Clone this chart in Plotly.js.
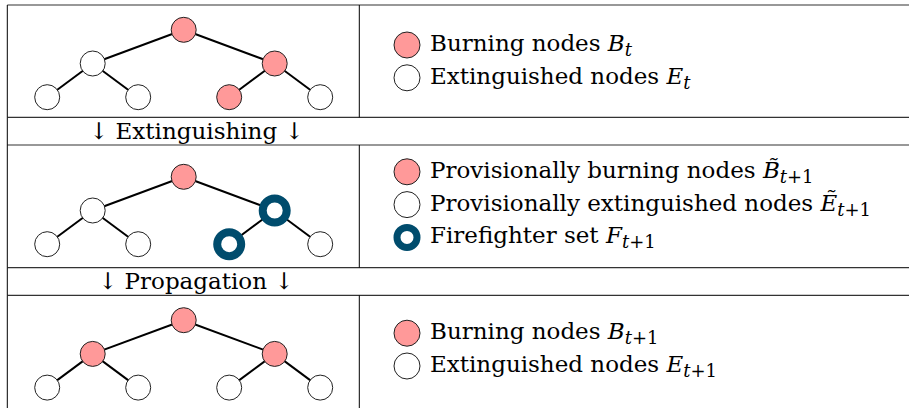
<!DOCTYPE html>
<html>
<head>
<meta charset="utf-8">
<script src="https://cdn.plot.ly/plotly-3.0.1.min.js"></script>
<style>
  html, body { margin: 0; padding: 0; background: #ffffff; }
  #chart { width: 909px; height: 408px; }
</style>
</head>
<body>
<div id="chart"></div>
<script>
// ---------------- DATA ----------------
// binary tree of 7 nodes: parent index of each node (-1 = root)
const parentIndex = [-1, 0, 0, 1, 1, 2, 2];
const nodeLevel   = [0, 1, 1, 2, 2, 2, 2];
// node states at each step
const statesStep1 = ['burning', 'extinguished', 'burning', 'extinguished', 'extinguished', 'burning', 'extinguished'];
const statesStep2 = ['burning', 'extinguished', 'firefighter', 'extinguished', 'extinguished', 'firefighter', 'extinguished'];
const statesStep3 = ['burning', 'burning', 'burning', 'extinguished', 'extinguished', 'extinguished', 'extinguished'];
// legend entries per step
const legendStates1 = ['burning', 'extinguished'];
const legendNames1  = ['Burning nodes', 'Extinguished nodes'];
const legendSymbols1 = [['B', '', 't'], ['E', '', 't']];
const legendStates2 = ['burning', 'extinguished', 'firefighter'];
const legendNames2  = ['Provisionally burning nodes', 'Provisionally extinguished nodes', 'Firefighter set'];
const legendSymbols2 = [['B', '\u0303', 't+1'], ['E', '\u0303', 't+1'], ['F', '', 't+1']];
const legendStates3 = ['burning', 'extinguished'];
const legendNames3  = ['Burning nodes', 'Extinguished nodes'];
const legendSymbols3 = [['B', '', 't+1'], ['E', '', 't+1']];
const transitionLabels = ['\u2193 Extinguishing \u2193', '\u2193 Propagation \u2193'];

// ---------------- LAYOUT / STYLE ----------------
const W = 909, H = 408;
const FONT = 'DejaVu Serif';
const FS = 23;
const SUBFS = 18;
const styles = {
  burning:      { color: '#ff9999', line: '#222222', lw: 1, size: 25 },
  extinguished: { color: '#ffffff', line: '#222222', lw: 1, size: 25 },
  firefighter:  { color: '#ffffff', line: '#004c6d', lw: 8, size: 24 }
};
const legendStyles = {
  burning:      { color: '#ff9999', line: '#222222', lw: 1, size: 26 },
  extinguished: { color: '#ffffff', line: '#222222', lw: 1, size: 26 },
  firefighter:  { color: '#ffffff', line: '#004c6d', lw: 7, size: 20 }
};
const rows = [
  { top: 5,   bottom: 117.3, rootY: 29.8, legY: 45,    states: statesStep1, lst: legendStates1, names: legendNames1, syms: legendSymbols1 },
  { top: 145, bottom: 267.7, rootY: 176.8, legY: 171.8, states: statesStep2, lst: legendStates2, names: legendNames2, syms: legendSymbols2 },
  { top: 295.3, bottom: H + 5, rootY: 320.2, legY: 333.2, states: statesStep3, lst: legendStates3, names: legendNames3, syms: legendSymbols3 }
];
const sepY = [131, 281];
const leftX = 7.3, midX = 359.3;
const leafX0 = 47.2, leafDX = 91, levelDY = 33.7;
const legX = 407, legTextX = 428, legDY = 32.8;

function mathLabel(name, sym) {
  const sub = sym[2].replace(/t/g, '<i>t</i>');
  return name + ' <i>' + sym[0] + sym[1] + '</i><sub><span style="font-size:' + SUBFS + 'px">' + sub + '</span></sub>';
}

// node positions from tree structure
function nodeX() {
  const xs = new Array(parentIndex.length).fill(0);
  const leaves = [];
  nodeLevel.forEach((l, i) => { if (l === 2) leaves.push(i); });
  leaves.forEach((n, k) => { xs[n] = leafX0 + leafDX * k; });
  for (let lev = 1; lev >= 0; lev--) {
    nodeLevel.forEach((l, i) => {
      if (l !== lev) return;
      const ch = parentIndex.map((p, j) => p === i ? j : -1).filter(j => j >= 0);
      xs[i] = ch.reduce((a, j) => a + xs[j], 0) / ch.length;
    });
  }
  return xs;
}
const NX = nodeX();

const traces = [];
const annotations = [];
const shapes = [];

rows.forEach(r => {
  const ny = nodeLevel.map(l => r.rootY + l * levelDY);
  // edges
  const ex = [], ey = [];
  parentIndex.forEach((p, i) => {
    if (p < 0) return;
    ex.push(NX[p], NX[i], null);
    ey.push(ny[p], ny[i], null);
  });
  traces.push({ x: ex, y: ey, mode: 'lines', line: { color: '#000', width: 2 }, hoverinfo: 'skip' });
  // nodes
  traces.push({
    x: NX, y: ny, mode: 'markers', hoverinfo: 'skip',
    marker: {
      opacity: 1,
      size: r.states.map(s => styles[s].size),
      color: r.states.map(s => styles[s].color),
      line: { color: r.states.map(s => styles[s].line), width: r.states.map(s => styles[s].lw) }
    }
  });
  // legend markers
  const ly = r.lst.map((s, k) => r.legY + k * legDY);
  traces.push({
    x: r.lst.map(() => legX), y: ly, mode: 'markers', hoverinfo: 'skip',
    marker: {
      opacity: 1,
      size: r.lst.map(s => legendStyles[s].size),
      color: r.lst.map(s => legendStyles[s].color),
      line: { color: r.lst.map(s => legendStyles[s].line), width: r.lst.map(s => legendStyles[s].lw) }
    }
  });
  r.names.forEach((t, k) => {
    annotations.push({ x: legTextX, y: ly[k], xref: 'x', yref: 'y', text: mathLabel(t, r.syms[k]), showarrow: false,
      xanchor: 'left', yanchor: 'middle', font: { family: FONT, size: FS, color: '#000' } });
  });
  // table borders
  shapes.push({ type: 'line', x0: leftX, x1: W, y0: r.top, y1: r.top, line: { color: '#333', width: 1.2 } });
  if (r.bottom < H) shapes.push({ type: 'line', x0: leftX, x1: W, y0: r.bottom, y1: r.bottom, line: { color: '#333', width: 1.2 } });
  shapes.push({ type: 'line', x0: leftX, x1: leftX, y0: r.top, y1: Math.min(r.bottom, H + 5), line: { color: '#000', width: 1 } });
  shapes.push({ type: 'line', x0: midX, x1: midX, y0: r.top, y1: Math.min(r.bottom, H + 5), line: { color: '#000', width: 1 } });
});

transitionLabels.forEach((t, k) => {
  annotations.push({ x: 196, y: sepY[k], xref: 'x', yref: 'y', text: t, showarrow: false,
    xanchor: 'center', yanchor: 'middle', font: { family: FONT, size: FS, color: '#000' } });
  shapes.push({ type: 'line', x0: leftX, x1: leftX, y0: rows[k].bottom, y1: rows[k + 1].top, line: { color: '#000', width: 1 } });
});

const layout = {
  width: W, height: H,
  margin: { l: 0, r: 0, t: 0, b: 0 },
  paper_bgcolor: '#fff', plot_bgcolor: '#fff',
  showlegend: false,
  xaxis: { range: [0, W], visible: false, fixedrange: true },
  yaxis: { range: [H, 0], visible: false, fixedrange: true },
  shapes: shapes,
  annotations: annotations
};

Plotly.newPlot('chart', traces, layout, { staticPlot: true, displayModeBar: false });
</script>
</body>
</html>
